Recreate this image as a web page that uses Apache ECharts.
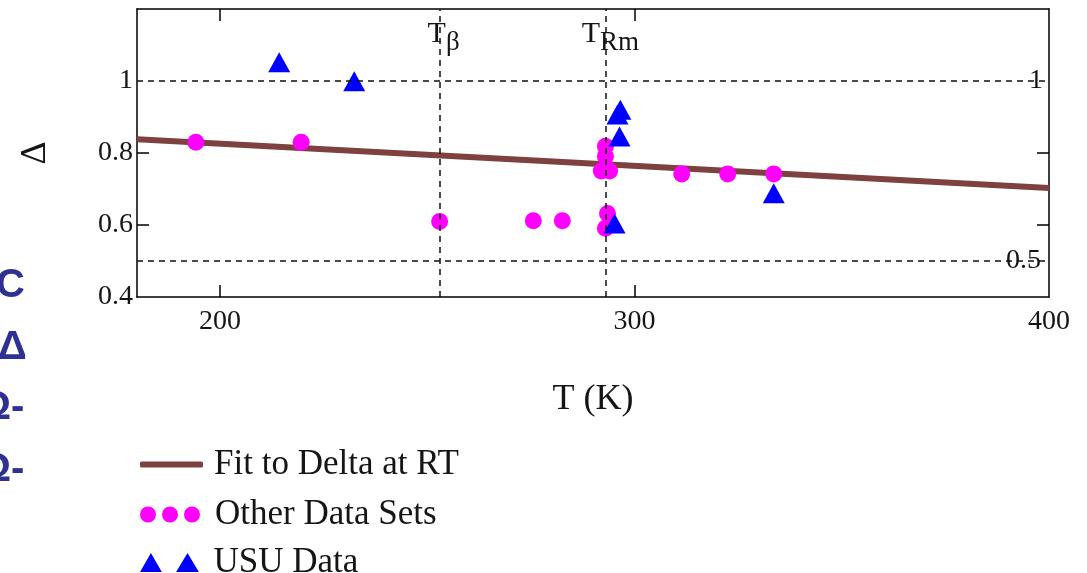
<!DOCTYPE html>
<html><head><meta charset="utf-8">
<script src="https://cdn.jsdelivr.net/npm/echarts@6/dist/echarts.min.js"></script>
<style>html,body{margin:0;padding:0;background:#fff}#c{width:1087px;height:573px}</style>
</head><body><div id="c"></div>
<script>
// ---- data ----
const fitT = [180, 400];
const fitDelta = [0.838, 0.703];
const otherT = [194.2, 219.6, 253, 275.6, 282.6, 293, 293, 292, 294, 293.5, 293, 311.4, 322.5, 333.6];
const otherDelta = [0.83, 0.83, 0.61, 0.612, 0.612, 0.819, 0.791, 0.75, 0.75, 0.632, 0.591, 0.742, 0.742, 0.742];
const usuT = [214.3, 232.4, 296.6, 295.9, 296.4, 295.2, 333.6];
const usuDelta = [1.052, 0.999, 0.92, 0.907, 0.846, 0.604, 0.688];
const xTicks = [200, 300];
const xLabels = [200, 300, 400];
const yTicks = [0.6, 0.8];
const yLabels = [0.4, 0.6, 0.8, 1];
const refY = [1, 0.5];
const refYLabels = ['1', '0.5'];
const refX = [253, 293];
const refXSub = ['β', 'Rm'];
const sideTexts = ['C', 'Δ', 'Ω-', 'Ω-'];
const seriesNames = ['Fit to Delta at RT', 'Other Data Sets', 'USU Data'];

// ---- chart ----
const serif = 'Liberation Serif';
const ink = '#151515';
const chart = echarts.init(document.getElementById('c'), null, {renderer: 'canvas'});

const tickLabelStyle = {fontFamily: serif, fontSize: 28, color: ink};
const refYLabelDist = [-20, -43];
const refXPad = [8, 10];

const markData = [];
refY.forEach((v, i) => markData.push({
  yAxis: v,
  label: {show: true, position: 'end', distance: refYLabelDist[i], formatter: refYLabels[i],
          fontFamily: serif, fontSize: 28, color: ink, padding: [6, 0, 0, 0]}
}));
refX.forEach((v, i) => markData.push({
  xAxis: v,
  label: {show: true, position: 'end', distance: -40, formatter: '{a|T}{b|' + refXSub[i] + '}',
          padding: [0, 0, 0, refXPad[i]],
          rich: {
            a: {fontFamily: serif, fontSize: 30, color: ink, lineHeight: 30, verticalAlign: 'top'},
            b: {fontFamily: serif, fontSize: 27, color: ink, lineHeight: 27, verticalAlign: 'top', padding: [10, 0, 0, 0]}
          }}
}));

const sideX = [-4, -2, -21, -21];
const sideY = [286, 348, 408, 470];

const option = {
  animation: false,
  backgroundColor: '#fff',
  grid: {left: 137, right: 38, top: 9, bottom: 276, containLabel: false},
  xAxis: [{
    type: 'value', min: 180, max: 400, position: 'bottom',
    name: 'T (K)', nameLocation: 'middle', nameGap: 85,
    nameTextStyle: {fontFamily: serif, fontSize: 36, color: ink},
    axisLine: {show: true, onZero: false, lineStyle: {color: '#000', width: 1.5}},
    axisTick: {show: true, inside: true, length: 12, customValues: xTicks, lineStyle: {color: '#000', width: 1.5}},
    axisLabel: Object.assign({show: true, margin: 11, customValues: xLabels}, tickLabelStyle),
    splitLine: {show: false}
  }, {
    type: 'value', min: 180, max: 400, position: 'top',
    axisLine: {show: true, onZero: false, lineStyle: {color: '#000', width: 1.5}},
    axisTick: {show: true, inside: true, length: 12, customValues: xTicks, lineStyle: {color: '#000', width: 1.5}},
    axisLabel: {show: false}, splitLine: {show: false}
  }],
  yAxis: [{
    type: 'value', min: 0.4, max: 1.2, interval: 0.2, position: 'left',
    name: 'Δ', nameLocation: 'middle', nameGap: 83, nameRotate: 90,
    nameTextStyle: {fontFamily: serif, fontSize: 36, color: ink},
    axisLine: {show: true, onZero: false, lineStyle: {color: '#000', width: 1.5}},
    axisTick: {show: true, inside: true, length: 12, customValues: yTicks, lineStyle: {color: '#000', width: 1.5}},
    axisLabel: Object.assign({show: true, margin: 4, customValues: yLabels, padding: [6, 0, 0, 0]}, tickLabelStyle),
    splitLine: {show: false}
  }, {
    type: 'value', min: 0.4, max: 1.2, interval: 0.2, position: 'right',
    axisLine: {show: true, onZero: false, lineStyle: {color: '#000', width: 1.5}},
    axisTick: {show: true, inside: true, length: 12, customValues: yTicks, lineStyle: {color: '#000', width: 1.5}},
    axisLabel: {show: false}, splitLine: {show: false}
  }],
  legend: [
    {data: [{name: seriesNames[0], icon: 'roundRect'}], left: 140, top: 447, itemWidth: 63, itemHeight: 6,
     selectedMode: false, orient: 'vertical', padding: 0,
     textStyle: {fontFamily: serif, fontSize: 35, color: ink, padding: [0, 0, 0, 6]}},
    {data: [{name: seriesNames[1], icon: 'path://M0,8a8,8 0 1,0 16,0a8,8 0 1,0 -16,0zM22,8a8,8 0 1,0 16,0a8,8 0 1,0 -16,0zM44,8a8,8 0 1,0 16,0a8,8 0 1,0 -16,0z'}],
     left: 140, top: 497, itemWidth: 60, itemHeight: 17, selectedMode: false, orient: 'vertical', padding: 0,
     textStyle: {fontFamily: serif, fontSize: 35, color: ink, padding: [0, 0, 0, 10]}},
    {data: [{name: seriesNames[2], icon: 'path://M0,20L11.5,0L23,20zM38,20L50,0L62,20z'}],
     left: 140, top: 545, itemWidth: 62, itemHeight: 19, selectedMode: false, orient: 'vertical', padding: 0,
     textStyle: {fontFamily: serif, fontSize: 35, color: ink, padding: [0, 0, 0, 8]}}
  ],
  graphic: sideTexts.map((t, i) => ({
    type: 'text', x: sideX[i], y: sideY[i], silent: true,
    style: {text: t, font: 'bold 40px "Liberation Sans"', fill: '#2e3092', verticalAlign: 'middle'}
  })),
  series: [
    {type: 'line', name: seriesNames[0], data: fitT.map((t, i) => [t, fitDelta[i]]),
     symbol: 'none', showSymbol: false, z: 2,
     lineStyle: {color: '#7f4040', width: 6}, itemStyle: {color: '#7f4040'}},
    {type: 'scatter', name: seriesNames[1], data: otherT.map((t, i) => [t, otherDelta[i]]),
     symbol: 'circle', symbolSize: 17, z: 3, itemStyle: {color: '#ff00ff', opacity: 1}},
    {type: 'scatter', name: seriesNames[2], data: usuT.map((t, i) => [t, usuDelta[i]]),
     symbol: 'triangle', symbolSize: [22, 20], z: 4, itemStyle: {color: '#0000ff', opacity: 1}},
    {type: 'line', name: 'refs', data: [], z: 5, silent: true,
     markLine: {silent: true, symbol: ['none', 'none'], animation: false,
       lineStyle: {color: '#111', width: 1.5, type: [6, 5]},
       emphasis: {disabled: true},
       data: markData}}
  ]
};
chart.setOption(option);
</script>
</body></html>
